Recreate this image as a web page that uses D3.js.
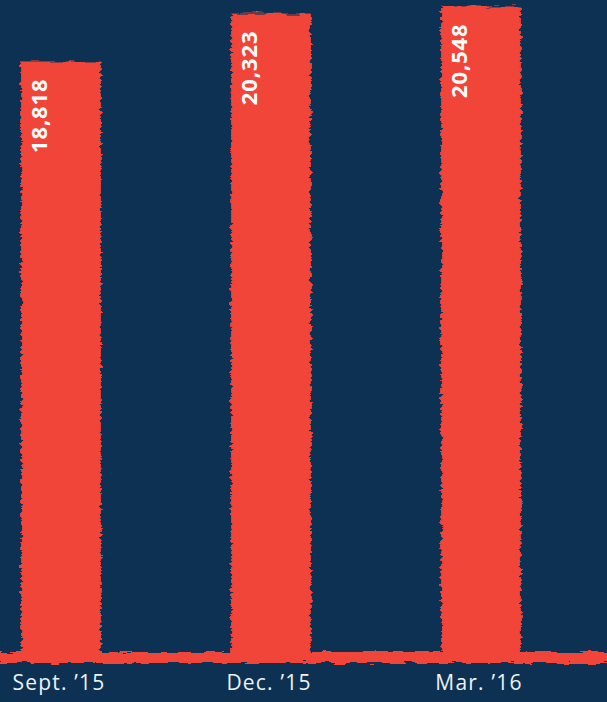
<!DOCTYPE html>
<html>
<head>
<meta charset="utf-8">
<script src="https://cdn.jsdelivr.net/npm/d3@7"></script>
<style>
  html, body { margin: 0; padding: 0; background: #0c3152; }
  svg { display: block; }
</style>
</head>
<body>
<svg id="chart" width="607" height="702"></svg>
<script>
// Quarterly totals
const categories = ["Sept. \u201915", "Dec. \u201915", "Mar. \u201916"];
const values = [18818, 20323, 20548];
const valueLabels = ["18,818", "20,323", "20,548"];

const W = 607, H = 702;
const bg = "#0c3152", red = "#f04438", ink = "#eef2f5";

const svg = d3.select("#chart");
svg.append("rect").attr("width", W).attr("height", H).attr("fill", bg);

// Brush-stroke roughness for the bars and the base stripe
const defs = svg.append("defs");
const f = defs.append("filter").attr("id", "rough")
  .attr("x", "-10%").attr("y", "-10%").attr("width", "120%").attr("height", "120%");
f.append("feTurbulence").attr("type", "fractalNoise")
  .attr("baseFrequency", "0.06 0.35").attr("numOctaves", 3).attr("seed", 4).attr("result", "n");
f.append("feDisplacementMap").attr("in", "SourceGraphic").attr("in2", "n")
  .attr("scale", 7).attr("xChannelSelector", "R").attr("yChannelSelector", "G");

const x = d3.scaleBand().domain(categories).range([-44, 586])
  .paddingInner(0.62).paddingOuter(0.31);
const y = d3.scaleLinear().domain([0, 20750]).range([660, 0]);

const data = categories.map((c, i) => ({ c, v: values[i], label: valueLabels[i] }));

// Base stripe along the zero line
svg.append("rect")
  .attr("x", -10).attr("width", W + 20)
  .attr("y", y(0) - 8).attr("height", 11)
  .attr("fill", red).attr("filter", "url(#rough)");

// Bars
svg.append("g").selectAll("rect").data(data).join("rect")
  .attr("x", d => x(d.c))
  .attr("width", x.bandwidth())
  .attr("y", d => y(d.v))
  .attr("height", d => y(0) - y(d.v) + 3)
  .attr("fill", red)
  .attr("filter", "url(#rough)");

// Value labels, rotated, reading upward from inside the bar top
svg.append("g").selectAll("text").data(data).join("text")
  .attr("transform", d => `translate(${x(d.c) + 26},${y(d.v) + 17}) rotate(-90)`)
  .attr("text-anchor", "end")
  .attr("fill", "#ffffff")
  .attr("font-family", "'Open Sans', sans-serif")
  .attr("font-weight", 700)
  .attr("font-size", 22)
  .attr("letter-spacing", 0.9)
  .text(d => d.label);

// Category axis
const axis = svg.append("g")
  .attr("transform", `translate(-2,${y(0) + 8})`)
  .call(d3.axisBottom(x).tickSize(0).tickPadding(7));
axis.select(".domain").remove();
axis.selectAll("text")
  .attr("fill", ink)
  .attr("font-family", "'Open Sans', sans-serif")
  .attr("font-size", 21)
  .attr("letter-spacing", 1.2);
</script>
</body>
</html>
